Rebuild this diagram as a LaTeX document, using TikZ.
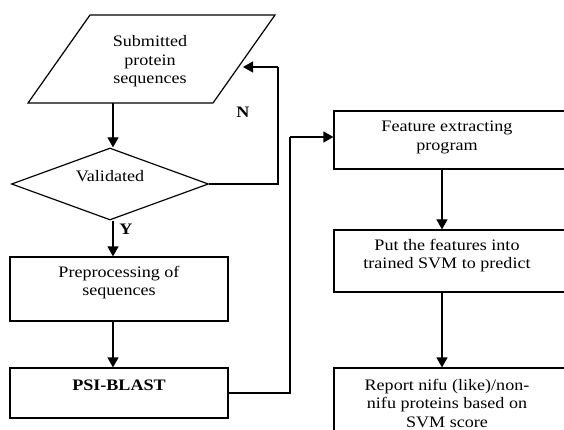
\documentclass[tikz,border=0pt]{standalone}
\usepackage{fontspec}
\setmainfont[FakeStretch=1.13]{Liberation Serif}
\usetikzlibrary{shapes.geometric,arrows.meta}
\newcommand{\mytab}[1]{\begin{tabular}[t]{@{}c@{}}#1\end{tabular}}
\newcommand{\mytabr}[1]{\begin{tabular}[t]{@{}c@{\hspace{14pt}}}#1\end{tabular}}
\begin{document}
\begin{tikzpicture}[x=1pt,y=-1pt,
  every node/.style={font=\fontsize{16}{18.5}\selectfont},
  box/.style={draw,rectangle,line width=1.2pt,inner sep=0pt,text height=11pt},
  arr/.style={line width=1.2pt,-{Triangle[length=10pt,width=11pt]}},
  ln/.style={line width=1.2pt},
  lbl/.style={font=\fontsize{16}{18.5}\selectfont\bfseries}]
\useasboundingbox (0,0) rectangle (564,430);
\clip (0,0) rectangle (564,430);
% input parallelogram
\draw[ln] (90,15) -- (275,15) -- (213,103) -- (28,103) -- cycle;
\node[inner sep=0pt,text height=11pt,text depth=41pt] (sub) at (150,62) {\mytab{Submitted\\protein\\sequences}};
\coordinate (subB) at (113,103);
\coordinate (subR) at (243,67);
\coordinate (nr) at (278,67);
% decision
\node[draw,diamond,line width=1.2pt,aspect=2.74,inner sep=0pt,minimum width=197pt,minimum height=72pt,text height=11pt,text depth=15pt] (val) at (110,184) {Validated};
% left boxes
\node[box,minimum width=218pt,minimum height=64pt,text depth=35pt] (pre) at (119,289) {\mytab{Preprocessing of\\sequences}};
\node[box,minimum width=218pt,minimum height=50pt,text depth=17pt,font=\fontsize{16}{18.5}\selectfont\bfseries] (psi) at (119,393) {PSI-BLAST};
% right boxes
\node[box,minimum width=240pt,minimum height=58pt,text depth=27pt] (feat) at (454,140) {\mytabr{Feature extracting\\program}};
\node[box,minimum width=240pt,minimum height=62pt,text depth=33pt] (svm) at (454,261) {\mytabr{Put the features into\\trained SVM to predict}};
\node[box,minimum width=240pt,minimum height=82pt,text depth=49pt] (rep) at (454,409) {\mytabr{Report nifu (like)/non-\\nifu proteins based on\\SVM score}};
\coordinate (pr) at (290,137);
\coordinate (ax) at (442,0);
\coordinate (lx) at (113,0);
% connectors
\draw[arr] (subB) -- (subB |- val.north);
\draw[arr] (val.south -| lx) -- (pre.north -| lx);
\draw[arr] (pre.south -| lx) -- (psi.north -| lx);
\draw[ln] (val.east) -| (nr);
\draw[arr] (nr) -- (subR);
\draw[ln] (psi.east) -| (pr);
\draw[arr] (pr) -- (pr -| feat.west);
\draw[arr] (feat.south -| ax) -- (svm.north -| ax);
\draw[arr] (svm.south -| ax) -- (rep.north -| ax);
% labels
\node[lbl,inner sep=0pt] (ylab) at (126,229) {Y};
\node[lbl,inner sep=0pt] (nlab) at (243,112) {N};
\end{tikzpicture}
\end{document}
